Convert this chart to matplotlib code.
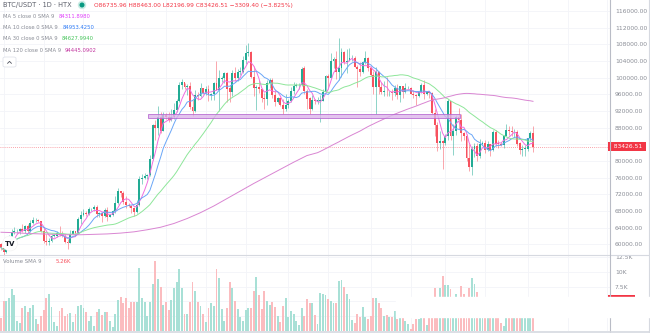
import numpy as np
import pandas as pd
import matplotlib
matplotlib.use("Agg")
import matplotlib.pyplot as plt
from matplotlib.patches import Rectangle, Ellipse, FancyBboxPatch
from matplotlib.lines import Line2D

W, H = 650, 333

# BTC/USDT daily candles on HTX (UTC+8 sessions), prices in thousand USDT
start_date = "2024-09-15"
first_open = 60.0
close = [59.2, 58.2, 60.3, 61.8, 62.9, 63.2, 63.3, 63.6, 63.3, 64.3,
         63.1, 65.2, 65.8, 65.9, 65.6, 63.3, 60.8, 60.6, 60.8, 62.1,
         62.1, 62.8, 62.2, 62.1, 60.6, 60.3, 62.4, 63.2, 62.8, 66.0,
         67.0, 67.6, 67.4, 68.4, 68.4, 69.0, 67.4, 67.4, 66.7, 68.2,
         66.6, 67.0, 68.0, 69.9, 72.7, 72.3, 70.2, 69.5, 69.3, 68.8,
         67.8, 69.4, 75.6, 75.9, 76.5, 76.7, 80.4, 88.7, 87.9, 90.5,
         87.3, 91.1, 90.6, 89.8, 90.5, 92.3, 94.3, 98.3, 98.9, 97.7,
         98.0, 93.0, 91.9, 95.9, 95.6, 97.5, 96.4, 97.2, 95.8, 96.0,
         98.7, 97.0, 99.8, 99.9, 101.1, 97.4, 96.6, 101.1, 100.0, 101.4,
         101.4, 104.3, 106.0, 106.1, 100.2, 97.5, 97.8, 97.2, 95.2, 94.9,
         98.7, 99.4, 95.8, 94.2, 95.2, 93.5, 92.6, 93.4, 94.4, 96.9,
         98.1, 98.2, 98.3, 102.2, 96.9, 95.0, 92.5, 94.7, 94.5, 94.5,
         94.5, 96.5, 100.5, 100.0, 104.1, 104.5, 101.3, 102.3, 106.1, 103.7,
         104.0, 104.7, 104.7, 102.6, 102.1, 101.3, 103.7, 104.7, 102.4, 100.6,
         97.7, 101.3, 97.8, 96.6, 96.6, 96.5, 96.5, 96.4, 97.4, 95.8,
         97.9, 96.6, 97.5, 97.6, 96.1, 95.8, 95.5, 96.6, 98.3, 96.1,
         96.6, 96.3, 91.5, 88.7, 84.3, 84.7, 84.3, 86.0, 94.3, 86.1,
         87.2, 90.6, 89.9, 86.7, 86.1, 80.7, 78.5, 82.9, 83.7, 81.1,
         84.0, 84.3, 82.6, 84.0, 82.7, 86.9, 84.2, 84.0, 83.8, 86.1,
         87.5, 87.3, 86.9, 87.0, 84.2, 82.57, 82.9, 83.0, 85.5, 86.73596,
         83.42651]
high = [60.4, 59.6, 61.3, 62.3, 63.8, 64.1, 63.6, 64.0, 64.8, 64.7,
        64.8, 65.8, 66.5, 66.3, 66.1, 65.6, 64.1, 62.4, 61.5, 62.5,
        62.4, 63.2, 64.5, 63.2, 62.5, 61.3, 63.4, 63.5, 63.3, 66.5,
        67.9, 68.4, 68.0, 68.9, 68.7, 69.4, 69.5, 67.8, 67.5, 68.8,
        68.9, 67.4, 68.3, 71.6, 73.6, 72.9, 72.7, 71.6, 69.9, 69.4,
        69.0, 70.6, 76.4, 76.9, 77.2, 77.0, 81.5, 89.0, 89.9, 93.3,
        91.8, 91.8, 91.5, 91.8, 92.6, 94.0, 94.9, 99.0, 99.6, 98.8,
        98.6, 98.9, 94.7, 97.0, 96.6, 98.7, 97.5, 98.0, 98.2, 96.3,
        99.0, 104.0, 101.9, 100.5, 101.4, 101.3, 98.3, 101.9, 102.5, 102.0,
        102.6, 105.2, 107.8, 108.3, 106.5, 102.8, 98.2, 99.5, 97.4, 96.4,
        99.5, 99.9, 99.9, 97.4, 95.4, 95.3, 94.9, 96.2, 94.9, 97.8,
        98.9, 98.7, 98.8, 102.5, 102.7, 97.3, 95.3, 95.8, 95.0, 95.4,
        95.9, 97.3, 100.7, 100.9, 105.9, 104.9, 106.3, 109.6, 107.2, 106.4,
        106.8, 107.1, 105.5, 105.3, 103.0, 103.8, 104.0, 106.5, 105.0, 102.7,
        101.5, 102.5, 101.7, 99.0, 99.2, 100.1, 96.9, 97.3, 98.3, 98.5,
        98.1, 97.9, 98.8, 97.9, 97.7, 97.0, 96.0, 96.9, 98.7, 99.5,
        96.9, 96.5, 96.5, 92.5, 89.3, 87.1, 85.0, 86.5, 95.0, 94.4,
        88.9, 91.0, 92.8, 91.2, 86.9, 86.4, 84.1, 83.6, 84.4, 84.3,
        85.3, 84.8, 85.0, 84.7, 84.0, 87.5, 87.4, 85.0, 84.6, 86.3,
        88.8, 88.5, 88.3, 87.8, 87.5, 84.6, 83.9, 83.9, 85.6, 87.2,
        88.463]
low = [58.7, 57.5, 57.9, 59.2, 61.6, 62.4, 62.8, 62.4, 62.9, 62.8,
       62.7, 62.9, 64.8, 65.4, 65.4, 62.9, 60.2, 59.9, 59.8, 60.5,
       61.7, 61.8, 62.1, 61.8, 60.3, 58.9, 60.3, 62.4, 62.0, 62.4,
       64.8, 66.7, 66.7, 67.1, 68.1, 68.1, 66.6, 66.6, 65.3, 66.6,
       65.5, 66.5, 66.8, 67.6, 69.8, 71.4, 69.7, 68.8, 69.0, 67.5,
       66.8, 67.5, 69.3, 74.6, 75.6, 75.8, 76.5, 80.2, 85.1, 86.2,
       86.7, 87.1, 90.1, 89.3, 89.5, 90.0, 91.8, 94.1, 97.2, 97.2,
       95.8, 92.6, 90.8, 91.8, 94.6, 95.4, 96.1, 95.9, 94.5, 94.6,
       94.7, 97.6, 92.1, 99.0, 98.8, 94.2, 94.2, 95.7, 99.3, 99.2,
       100.6, 101.2, 103.3, 105.3, 100.0, 95.7, 92.2, 96.4, 94.2, 92.4,
       93.4, 97.6, 95.2, 93.3, 94.0, 93.3, 91.3, 92.0, 92.8, 94.2,
       96.0, 97.8, 97.3, 97.9, 96.1, 92.5, 91.2, 92.2, 93.8, 93.7,
       89.3, 94.3, 96.5, 97.3, 100.0, 102.3, 99.6, 99.5, 100.1, 103.3,
       101.2, 104.0, 104.1, 102.5, 97.8, 100.3, 101.2, 103.3, 101.6, 100.3,
       96.2, 91.2, 96.2, 96.2, 95.7, 95.7, 95.7, 94.7, 95.6, 94.9,
       94.1, 95.2, 96.3, 97.2, 96.0, 95.2, 93.4, 95.4, 96.4, 94.8,
       95.8, 95.2, 91.4, 86.0, 82.3, 83.0, 78.2, 83.8, 85.0, 85.0,
       81.4, 86.3, 87.8, 84.7, 85.0, 80.1, 77.5, 76.6, 80.9, 79.9,
       80.8, 83.9, 82.0, 82.5, 81.1, 82.3, 83.7, 83.2, 83.7, 83.2,
       85.9, 86.3, 85.9, 85.8, 83.6, 81.6, 81.3, 81.3, 82.4, 84.9,
       82.19699]
volume = [2.15, 5.06, 5.06, 5.5, 7.0, 6.0, 1.7, 1.3, 3.8, 4.2,
          3.2, 3.8, 4.4, 2.0, 1.2, 2.6, 3.6, 5.5, 6.2, 4.1,
          1.45, 0.9, 3.3, 3.8, 2.6, 2.9, 3.0, 1.6, 2.9, 4.2,
          4.4, 3.8, 3.2, 1.7, 2.6, 0.9, 3.2, 3.7, 2.7, 3.2,
          3.2, 1.7, 0.75, 2.9, 5.2, 5.7, 4.7, 5.6, 3.8, 4.9,
          4.9, 4.9, 10.7, 5.6, 4.9, 2.6, 4.9, 7.9, 11.8, 8.7,
          7.4, 4.4, 4.9, 3.5, 5.2, 7.3, 8.2, 10.5, 7.3, 2.9,
          2.9, 4.9, 8.2, 6.7, 4.9, 4.2, 2.9, 1.6, 3.8, 4.7,
          4.2, 10.5, 8.9, 3.7, 1.7, 3.8, 8.2, 7.3, 5.1, 3.7,
          2.3, 1.7, 3.5, 3.8, 3.8, 6.7, 9.1, 6.1, 3.7, 6.8,
          5.1, 4.4, 4.9, 4.1, 2.6, 1.6, 4.2, 5.5, 2.3, 3.3,
          2.9, 1.7, 1.0, 3.8, 2.6, 5.4, 4.7, 4.7, 2.7, 1.2,
          6.4, 6.2, 6.0, 5.4, 5.1, 4.7, 4.7, 8.4, 8.6, 7.4,
          6.2, 5.4, 1.9, 1.3, 2.9, 2.3, 4.1, 2.3, 2.0, 2.6,
          5.5, 5.5, 4.7, 3.8, 2.5, 2.7, 2.3, 2.3, 3.3, 2.0,
          2.3, 2.3, 1.7, 1.2, 0.4, 1.2, 2.1, 2.1, 3.5, 4.5,
          1.0, 2.6, 5.0, 7.3, 5.0, 7.2, 9.3, 7.7, 7.8, 7.1,
          5.0, 6.2, 5.0, 7.6, 6.2, 5.5, 7.2, 9.0, 7.9, 6.6,
          4.8, 3.0, 2.8, 3.9, 4.1, 5.3, 4.6, 2.6, 1.3, 0.8,
          4.0, 3.5, 5.0, 4.9, 5.6, 5.5, 5.2, 5.0, 5.5, 5.3,
          5.3]

ma120_idx = list(range(0, 120, 5))
ma120_early = [62.9, 62.8, 62.6, 62.5, 62.4, 62.3, 62.3, 62.4, 62.5, 62.7,
               63.0, 63.5, 64.1, 65.0, 66.2, 67.6, 69.2, 71.0, 72.8, 74.6,
               76.3, 78.0, 79.7, 81.3]

# drawn zone
zone_from, zone_to = 55.2, 172.6
zone_low, zone_high = 90.4, 91.2

ohlc_text = "O86735.96 H88463.00 L82196.99 C83426.51 \u22123309.40 (\u22123.825%)"
ma_legend = [("MA 5 close 0 SMA 9", "84311.8980", "#e040fb"),
             ("MA 10 close 0 SMA 9", "84953.4250", "#2f7cf6"),
             ("MA 30 close 0 SMA 9", "84627.9940", "#45c45a"),
             ("MA 120 close 0 SMA 9", "94445.0902", "#c2359f")]
price_ticks = list(range(60000, 116001, 4000))
vol_ticks = [2500, 5000, 7500, 10000, 12500]
vol_sma = 5260

UP, DOWN = "#22ab94", "#f7525f"
GRID = "#f3f4f8"
TXT = "#8a8d96"

c = np.array(close) * 1000
hi = np.array(high) * 1000
lo = np.array(low) * 1000
o = np.r_[first_open, close[:-1]] * 1000
v = np.array(volume) * 1000
x = np.arange(len(c))
up = c >= o
s = pd.Series(c)

plt.rcParams["font.family"] = ["DejaVu Sans"]
fig = plt.figure(figsize=(W / 100, H / 100), dpi=100)
fig.patch.set_facecolor("white")

ax = fig.add_axes([0, 78.5 / H, 610 / W, 254.5 / H])
axv = fig.add_axes([0, 2 / H, 610 / W, 76 / H])

xlim = (-1.0 / 2.66, 609 / 2.66)
dates = pd.date_range(start_date, periods=int(xlim[1]) + 2)
grid_x = [k for k, d in enumerate(dates) if d.day in (1, 16)]

for a in (ax, axv):
    a.set_xlim(*xlim)
    for sp in a.spines.values():
        sp.set_visible(False)
    a.set_xticks([])
    a.yaxis.tick_right()
    a.tick_params(axis="y", length=0, pad=3.5, labelsize=4.3, labelcolor=TXT)
    for gx in grid_x:
        a.axvline(gx, color=GRID, lw=0.6, zorder=0)

ax.set_ylim(57560, 118640)
ax.set_yticks(price_ticks)
# the tick next to the last-price tag is hidden by it
ax.set_yticklabels(["" if abs(t - c[-1]) < 2000 else f"{t:.2f}" for t in price_ticks])
for t in price_ticks:
    ax.axhline(t, color=GRID, lw=0.6, zorder=0)

# candles
col = np.where(up, UP, DOWN)
ax.vlines(x, lo, hi, colors=col, lw=0.55, alpha=0.65, zorder=2)
body = np.maximum(np.abs(c - o), 80)
ax.bar(x, body, bottom=np.minimum(o, c), width=0.72, color=col, lw=0, zorder=3)

# moving averages
ax.plot(x, s.rolling(5, min_periods=1).mean(), color="#f06ee0", lw=0.7, zorder=4)
ax.plot(x, s.rolling(10, min_periods=1).mean(), color="#6aa6f7", lw=0.7, zorder=4)
ax.plot(x, s.rolling(30, min_periods=1).mean(), color="#8ee69a", lw=0.7, zorder=4)
ma120 = s.rolling(120).mean()
ma120_x = ma120_idx + list(range(119, len(c)))
ma120_y = [m * 1000 for m in ma120_early] + list(ma120[119:])
ax.plot(ma120_x, ma120_y, color="#d985d2", lw=0.7, zorder=4)

ax.add_patch(Rectangle((zone_from, zone_low * 1000), zone_to - zone_from,
                       (zone_high - zone_low) * 1000, facecolor="#dcb6ea",
                       edgecolor="#b565d0", lw=0.7, alpha=0.8, zorder=5))

# last price line + label
ax.axhline(c[-1], color="#f23645", lw=0.6, ls=(0, (1, 1.5)), alpha=0.6, zorder=1)
ax.text(1.0, c[-1], f"  {c[-1]:.2f} ", transform=ax.get_yaxis_transform(),
        ha="left", va="center", size=4.3, color="white", zorder=10,
        bbox=dict(boxstyle="square,pad=0.35", fc="#f23645", ec="none"))

# volume pane
axv.set_ylim(0, 12814)
axv.set_yticks(vol_ticks)
axv.set_yticklabels(["" if abs(t - vol_sma) < 1000 else f"{t / 1000:g}K" for t in vol_ticks])
for t in vol_ticks:
    axv.axhline(t, color=GRID, lw=0.6, zorder=0)
vcol = np.where(up, "#a8e0d6", "#fbbcbf")
axv.bar(x, v, width=0.72, color=vcol, lw=0, zorder=2)
axv.text(1.0, vol_sma, f"  {vol_sma / 1000:.2f}K ", transform=axv.get_yaxis_transform(),
         ha="left", va="center", size=4.3, color="white", zorder=10,
         bbox=dict(boxstyle="square,pad=0.35", fc="#f23645", ec="none"))


def fx(px):
    return px / W


def fy(py):
    return 1 - py / H


# pane borders
fig.add_artist(Line2D([0, 1], [fy(254.5)] * 2, color="#d6d9e0", lw=0.8))
fig.add_artist(Line2D([fx(610)] * 2, [0, 1], color="#b9bcc6", lw=0.8))
fig.add_artist(Line2D([fx(648.5)] * 2, [0, 1], color="#d6d9e0", lw=0.8))
fig.add_artist(Line2D([0, 1], [fy(331.8)] * 2, color="#d6d9e0", lw=1.2))

# white band that hides part of the volume pane in the screenshot
fig.add_artist(Rectangle((fx(396), fy(317.3)), fx(W - 396), 20.8 / H,
                         transform=fig.transFigure, color="white", zorder=6))

# header texts
fig.text(fx(3), fy(5), "BTC/USDT \u00b7 1D \u00b7 HTX", size=4.8, color="#5d606b", va="center")
fig.add_artist(Ellipse((fx(82), fy(5)), 7 / W, 7 / H, transform=fig.transFigure,
                       color="#c9ebe3", zorder=3))
fig.add_artist(Ellipse((fx(82), fy(5)), 3.6 / W, 3.6 / H, transform=fig.transFigure,
                       color="#089981", zorder=4))
fig.text(fx(94), fy(5), ohlc_text, size=4.2, color="#f23645", va="center")

row_y = [16, 27.5, 38.8, 50]
val_x = [58.3, 62.3, 61.8, 64.3]
for (name, val, vc), ry, vx in zip(ma_legend, row_y, val_x):
    fig.text(fx(3), fy(ry), name, size=3.75, color=TXT, va="center")
    fig.text(fx(vx), fy(ry), val, size=3.75, color=vc, va="center")

fig.add_artist(FancyBboxPatch((fx(3), fy(67)), 13 / W, 10 / H, transform=fig.transFigure,
                              boxstyle="round,pad=0,rounding_size=0.004",
                              fc="white", ec="#e0e3eb", lw=0.6))
fig.add_artist(Line2D([fx(7.6), fx(9.5), fx(11.4)], [fy(63.3), fy(61.4), fy(63.3)],
                      color="#50535e", lw=0.6))

fig.text(fx(3), fy(261.5), "Volume SMA 9", size=3.9, color=TXT, va="center")
fig.text(fx(55.5), fy(261.5), f"{vol_sma / 1000:.2f}K", size=3.9, color="#f7525f", va="center")

# TradingView badge
fig.add_artist(Ellipse((fx(10), fy(243.5)), 15 / W, 15 / H, transform=fig.transFigure,
                       fc="white", ec="#eeeeee", lw=0.3, zorder=3))
fig.text(fx(10), fy(243.5), "TV", size=5.0, weight="bold", color="#131722",
         ha="center", va="center", zorder=4)

fig.savefig("out.png", dpi=100, facecolor="white")
